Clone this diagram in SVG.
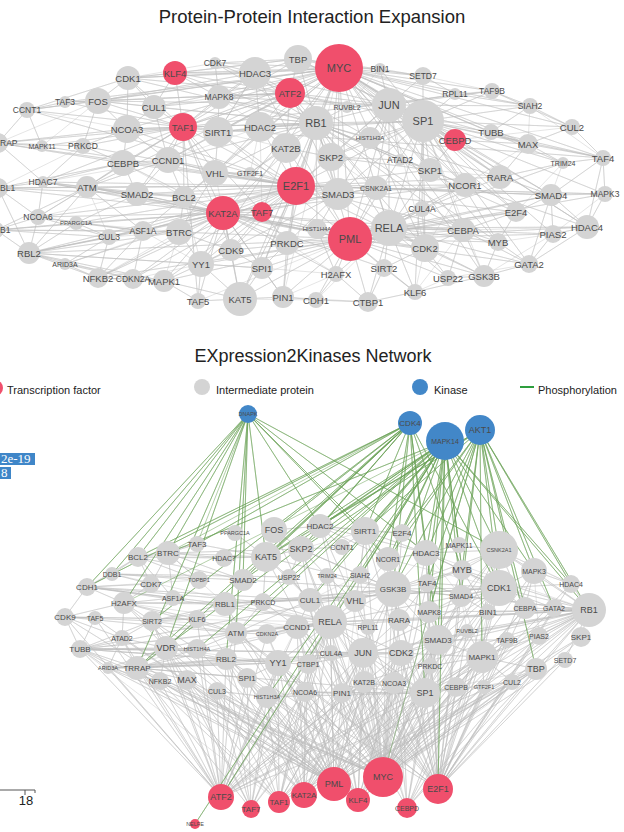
<svg xmlns="http://www.w3.org/2000/svg" width="624" height="832" viewBox="0 0 624 832">
<style>
.e{fill:none;stroke:#bdbdbd;stroke-width:0.5;stroke-linejoin:round;opacity:0.8}
.gr{fill:none;stroke:#6aa357;stroke-width:0.6;stroke-linejoin:round;opacity:0.85}
.n{fill:#d4d4d4}
.t{fill:#f04f6c}
.k{fill:#4287c8}
text{font-family:"Liberation Sans",Arial,sans-serif;fill:#4a4a4a;text-anchor:middle;dominant-baseline:central}
.tt{fill:#222;font-size:18px;dominant-baseline:alphabetic}
.lg{fill:#222;font-size:11px;text-anchor:start}
.f11{font-size:11px}.f10{font-size:9.5px}.f9{font-size:8.5px}.f7{font-size:7px}.f6{font-size:6px}
.b9{font-size:9px}.b8{font-size:8px}.b7{font-size:7px}.b6{font-size:5.5px}
.st{text-anchor:start}
</style>

<text class="tt" x="312" y="23" style="font-size:18.5px">Protein-Protein Interaction Expansion</text>

<g id="top-edges">
<path class="e" d="M339 68L175 73 339 68 215 63 339 68 255 73 339 68 298 59 339 68 380 69 339 68 423 76 339 68 455 94 339 68 492 91 339 68 530 106 339 68 572 127 339 68 389 105 339 68 423 121 339 68 455 140 339 68 491 132 339 68 528 144 339 68 563 163 339 68 603 158 339 68 331 157 339 68 430 170 339 68 500 177 339 68 128 78 339 68 98 101 339 68 154 107 339 68 219 97 339 68 183 127 339 68 218 132 339 68 260 127 339 68 127 129 339 68 168 160 339 68 215 173 339 68 296 186 339 68 338 194 339 68 389 228 339 68 350 239 339 68 465 185 339 68 551 195 339 68 587 227 339 68 463 230 339 68 498 242 339 68 425 248 339 68 484 276 339 68 516 212 339 68 223 213 339 68 201 264 339 68 184 197 339 68 87 187 339 68 27 110 339 68 65 102 339 68 240 299 339 68 262 268 339 68 283 297"/>
<path class="e" d="M296 186L316 123 296 186 286 148 296 186 260 127 296 186 218 132 296 186 183 127 296 186 168 160 296 186 215 173 296 186 137 194 296 186 87 187 296 186 43 182 296 186 -2 188 296 186 38 217 296 186 76 223 296 186 109 237 296 186 143 231 296 186 179 232 296 186 29 253 296 186 231 250 296 186 287 243 296 186 201 264 296 186 262 268 296 186 240 299 296 186 164 281 296 186 133 279 296 186 98 278 296 186 283 297 296 186 338 194 296 186 331 157 296 186 389 105 296 186 423 121 296 186 376 188 296 186 465 185 296 186 500 177 296 186 551 195 296 186 605 194 296 186 463 230 296 186 516 212 296 186 425 248 296 186 430 170 296 186 123 163 296 186 127 129 296 186 83 146 296 186 -2 143 296 186 27 110 296 186 42 146 296 186 65 264"/>
<path class="e" d="M350 239L389 228 350 239 425 248 350 239 384 268 350 239 336 274 350 239 368 302 350 239 415 292 350 239 448 278 350 239 484 276 350 239 529 264 350 239 498 242 350 239 553 234 350 239 587 227 350 239 516 212 350 239 463 230 350 239 422 209 350 239 551 195 350 239 423 121 350 239 389 105 350 239 316 123 350 239 286 148 350 239 262 212 350 239 223 213 350 239 262 268 350 239 283 297 350 239 316 300 350 239 240 299 350 239 201 264 350 239 179 232 350 239 137 194 350 239 87 187 350 239 164 281 350 239 255 73 350 239 218 132 350 239 43 182 350 239 231 250 350 239 465 185 350 239 500 177 350 239 376 188 350 239 563 163 350 239 605 194 350 239 29 253 350 239 98 278 350 239 198 301"/>
<path class="e" d="M423 121L389 105 423 121 423 76 423 121 455 94 423 121 492 91 423 121 530 106 423 121 491 132 423 121 528 144 423 121 455 140 423 121 603 158 423 121 572 127 423 121 500 177 423 121 465 185 423 121 430 170 423 121 370 138 423 121 338 194 423 121 551 195 423 121 516 212 423 121 463 230 423 121 498 242 423 121 587 227 423 121 316 123 423 121 331 157 423 121 260 127 423 121 298 59 423 121 529 264 423 121 553 234 423 121 563 163 423 121 415 292 423 121 218 132 423 121 422 209 423 121 389 228 423 121 425 248 423 121 380 69 423 121 605 194 423 121 484 276"/>
<path class="e" d="M316 123L255 73 316 123 298 59 316 123 290 93 316 123 260 127 316 123 286 148 316 123 218 132 316 123 219 97 316 123 128 78 316 123 168 160 316 123 154 107 316 123 183 127 316 123 389 105 316 123 331 157 316 123 370 138 316 123 338 194 316 123 376 188 316 123 400 160 316 123 430 170 316 123 215 173 316 123 250 173 316 123 223 213 316 123 287 243 316 123 317 229 316 123 425 248 316 123 389 228 316 123 465 185 316 123 500 177 316 123 498 242 316 123 463 230 316 123 516 212 316 123 175 73 316 123 215 63 316 123 347 107 316 123 127 129 316 123 98 101"/>
<path class="e" d="M183 127L175 73 183 127 128 78 183 127 154 107 183 127 98 101 183 127 219 97 183 127 127 129 183 127 123 163 183 127 168 160 183 127 218 132 183 127 255 73 183 127 298 59 183 127 290 93 183 127 83 146 183 127 65 102 183 127 42 146 183 127 -2 143 183 127 27 110 183 127 215 173 183 127 262 212 183 127 223 213 183 127 184 197 183 127 137 194 183 127 198 301 183 127 231 250 183 127 43 182 183 127 87 187 183 127 603 158 183 127 492 91 183 127 38 217"/>
<path class="e" d="M223 213L262 212 223 213 137 194 223 213 184 197 223 213 179 232 223 213 143 231 223 213 109 237 223 213 76 223 223 213 38 217 223 213 29 253 223 213 65 264 223 213 98 278 223 213 133 279 223 213 164 281 223 213 201 264 223 213 231 250 223 213 262 268 223 213 198 301 223 213 240 299 223 213 283 297 223 213 287 243 223 213 317 229 223 213 338 194 223 213 376 188 223 213 389 228 223 213 425 248 223 213 465 185 223 213 463 230 223 213 336 274 223 213 384 268 223 213 87 187 223 213 43 182 223 213 -2 188 223 213 -4 230 223 213 123 163 223 213 168 160"/>
<path class="e" d="M290 93L255 73 290 93 298 59 290 93 389 105 290 93 219 97 290 93 215 63 290 93 175 73 290 93 218 132 290 93 260 127 290 93 286 148 290 93 331 157 290 93 338 194 290 93 370 138 290 93 423 121 290 93 154 107 290 93 128 78 290 93 98 101 290 93 65 102 290 93 347 107 290 93 183 127"/>
<path class="e" d="M389 105L380 69 389 105 423 76 389 105 455 94 389 105 347 107 389 105 370 138 389 105 400 160 389 105 430 170 389 105 376 188 389 105 338 194 389 105 389 228 389 105 331 157 389 105 465 185 389 105 500 177 389 105 219 97 389 105 255 73 389 105 298 59 389 105 98 101 389 105 530 106 389 105 528 144 389 105 492 91 389 105 425 248"/>
<path class="e" d="M389 228L422 209 389 228 376 188 389 228 338 194 389 228 425 248 389 228 384 268 389 228 415 292 389 228 448 278 389 228 484 276 389 228 463 230 389 228 516 212 389 228 498 242 389 228 529 264 389 228 553 234 389 228 551 195 389 228 587 227 389 228 465 185 389 228 430 170 389 228 368 302 389 228 336 274 389 228 317 229 389 228 287 243 389 228 316 300"/>
<path class="e" d="M338 194L376 188 338 194 331 157 338 194 287 243 338 194 317 229 338 194 262 212 338 194 201 264 338 194 137 194 338 194 465 185M376 188L551 195 376 188 605 194M551 195L605 194 551 195 587 227 551 195 553 234 551 195 516 212 551 195 529 264 551 195 500 177 551 195 603 158 551 195 563 163M587 227L605 194 587 227 553 234 587 227 529 264 587 227 603 158 587 227 465 185 587 227 463 230M605 194L603 158 605 194 553 234M603 158L563 163 603 158 572 127 603 158 528 144 603 158 491 132 603 158 530 106M572 127L530 106 572 127 528 144 572 127 492 91 572 127 455 140M530 106L492 91 530 106 491 132 530 106 455 94 530 106 528 144M563 163L528 144 563 163 500 177 563 163 516 212M528 144L491 132 528 144 455 140 528 144 500 177 528 144 465 185M529 264L553 234 529 264 498 242 529 264 484 276 529 264 463 230 529 264 448 278M498 242L463 230 498 242 484 276 498 242 516 212 498 242 553 234M463 230L484 276 463 230 448 278 463 230 425 248 463 230 422 209 463 230 516 212 463 230 415 292M484 276L448 278 484 276 425 248 484 276 415 292 484 276 553 234M448 278L425 248 448 278 415 292M415 292L384 268 415 292 368 302 415 292 425 248M368 302L336 274 368 302 384 268 368 302 316 300 368 302 283 297M425 248L384 268 425 248 422 209 425 248 465 185"/>
<path class="e" d="M27 110L65 102 27 110 98 101 27 110 42 146 27 110 -2 143 27 110 128 78 27 110 127 129M-2 143L42 146 -2 143 83 146 -2 143 127 129 -2 143 123 163 -2 143 43 182 -2 143 98 101M-2 188L43 182 -2 188 87 187 -2 188 38 217 -2 188 29 253 -2 188 137 194 -2 188 123 163 -2 188 83 146M29 253L38 217 29 253 65 264 29 253 109 237 29 253 143 231 29 253 76 223 29 253 179 232 29 253 98 278 29 253 133 279 29 253 201 264 29 253 87 187 29 253 -4 230 29 253 164 281 29 253 262 268M-4 230L38 217 -4 230 76 223 -4 230 109 237 -4 230 143 231 -4 230 87 187 -4 230 179 232M38 217L76 223 38 217 87 187 38 217 109 237 38 217 143 231 38 217 43 182 38 217 137 194M43 182L87 187 43 182 137 194 43 182 83 146 43 182 123 163 43 182 168 160M87 187L137 194 87 187 123 163 87 187 168 160 87 187 184 197 87 187 143 231 87 187 109 237M76 223L109 237 76 223 143 231 76 223 137 194 76 223 179 232M65 264L98 278 65 264 109 237 65 264 133 279 65 264 164 281M98 278L133 279 98 278 164 281 98 278 109 237 98 278 143 231 98 278 179 232M133 279L164 281 133 279 143 231 133 279 201 264M164 281L201 264 164 281 198 301 164 281 240 299 164 281 179 232"/>
<path class="e" d="M98 101L65 102 98 101 128 78 98 101 154 107 98 101 127 129 98 101 83 146 98 101 42 146M128 78L175 73 128 78 154 107 128 78 127 129 128 78 215 63M154 107L127 129 154 107 175 73 154 107 168 160 154 107 219 97M127 129L123 163 127 129 168 160 127 129 83 146 127 129 218 132M123 163L168 160 123 163 137 194 123 163 83 146 123 163 184 197M168 160L218 132 168 160 215 173 168 160 137 194 168 160 184 197 168 160 260 127M219 97L255 73 219 97 215 63 219 97 175 73 219 97 218 132 219 97 260 127M218 132L260 127 218 132 255 73 218 132 215 173 218 132 286 148M260 127L255 73 260 127 286 148 260 127 215 173 260 127 250 173M215 173L250 173 215 173 184 197 215 173 179 232 215 173 231 250M184 197L137 194 184 197 179 232 184 197 143 231 184 197 201 264M179 232L143 231 179 232 201 264 179 232 231 250 179 232 109 237M201 264L231 250 201 264 262 268 201 264 198 301 201 264 240 299 201 264 143 231M240 299L198 301 240 299 262 268 240 299 283 297 240 299 231 250 240 299 316 300M283 297L262 268 283 297 316 300 283 297 287 243 283 297 336 274M262 268L231 250 262 268 287 243 262 268 336 274M336 274L316 300 336 274 317 229 336 274 287 243M262 212L287 243 262 212 231 250 262 212 286 148 262 212 260 127M298 59L255 73 298 59 215 63 298 59 380 69 298 59 423 76 298 59 175 73 298 59 128 78M255 73L215 63 255 73 175 73 255 73 128 78 255 73 98 101 255 73 218 132M380 69L423 76 380 69 347 107M423 76L455 94 423 76 492 91M455 94L492 91M286 148L331 157 286 148 250 173 286 148 260 127M331 157L370 138 331 157 400 160 331 157 430 170 331 157 376 188M430 170L400 160 430 170 465 185 430 170 455 140 430 170 500 177"/>
</g>

<g id="top-nodes">
<g id="a-KLF4"><circle class="t" cx="175" cy="73" r="12"/><text class="f10" x="175" y="73">KLF4</text></g>
<g id="a-CDK7"><circle class="n" cx="215" cy="63" r="6"/><text class="f9" x="215" y="63">CDK7</text></g>
<g id="a-HDAC3"><circle class="n" cx="255" cy="73" r="16"/><text class="f10" x="255" y="73">HDAC3</text></g>
<g id="a-TBP"><circle class="n" cx="298" cy="59" r="14"/><text class="f10" x="298" y="59">TBP</text></g>
<g id="a-ATF2"><circle class="t" cx="290" cy="93" r="15"/><text class="f10" x="290" y="93">ATF2</text></g>
<g id="a-MYC"><circle class="t" cx="339" cy="68" r="24"/><text class="f11" x="339" y="68">MYC</text></g>
<g id="a-BIN1"><circle class="n" cx="380" cy="69" r="6"/><text class="f9" x="380" y="69">BIN1</text></g>
<g id="a-SETD7"><circle class="n" cx="423" cy="76" r="9"/><text class="f9" x="423" y="76">SETD7</text></g>
<g id="a-RPL11"><circle class="n" cx="455" cy="94" r="6"/><text class="f9" x="455" y="94">RPL11</text></g>
<g id="a-TAF9B"><circle class="n" cx="492" cy="91" r="8"/><text class="f9" x="492" y="91">TAF9B</text></g>
<g id="a-SIAH2"><circle class="n" cx="530" cy="106" r="8"/><text class="f9" x="530" y="106">SIAH2</text></g>
<g id="a-CUL2"><circle class="n" cx="572" cy="127" r="8"/><text class="f10" x="572" y="127">CUL2</text></g>
<g id="a-RUVBL2"><circle class="n" cx="347" cy="107" r="6"/><text class="f7" x="347" y="107">RUVBL2</text></g>
<g id="a-JUN"><circle class="n" cx="389" cy="105" r="17"/><text class="f11" x="389" y="105">JUN</text></g>
<g id="a-SP1"><circle class="n" cx="423" cy="121" r="21"/><text class="f11" x="423" y="121">SP1</text></g>
<g id="a-HIST1H3A"><circle class="n" cx="370" cy="138" r="11"/><text class="f6" x="370" y="138">HIST1H3A</text></g>
<g id="a-CEBPD"><circle class="t" cx="455" cy="140" r="11"/><text class="f10" x="455" y="140">CEBPD</text></g>
<g id="a-TUBB"><circle class="n" cx="491" cy="132" r="8"/><text class="f10" x="491" y="132">TUBB</text></g>
<g id="a-MAX"><circle class="n" cx="528" cy="144" r="10"/><text class="f10" x="528" y="144">MAX</text></g>
<g id="a-TRIM24"><circle class="n" cx="563" cy="163" r="6"/><text class="f7" x="563" y="163">TRIM24</text></g>
<g id="a-TAF4"><circle class="n" cx="603" cy="158" r="8"/><text class="f10" x="603" y="158">TAF4</text></g>
<g id="a-SKP2"><circle class="n" cx="331" cy="157" r="14"/><text class="f10" x="331" y="157">SKP2</text></g>
<g id="a-ATAD2"><circle class="n" cx="400" cy="160" r="6"/><text class="f9" x="400" y="160">ATAD2</text></g>
<g id="a-SKP1"><circle class="n" cx="430" cy="170" r="12"/><text class="f10" x="430" y="170">SKP1</text></g>
<g id="a-RARA"><circle class="n" cx="500" cy="177" r="12"/><text class="f10" x="500" y="177">RARA</text></g>
<g id="a-CDK1"><circle class="n" cx="128" cy="78" r="12"/><text class="f10" x="128" y="78">CDK1</text></g>
<g id="a-CCNT1"><circle class="n" cx="27" cy="110" r="8"/><text class="f9" x="27" y="110">CCNT1</text></g>
<g id="a-TAF3"><circle class="n" cx="65" cy="102" r="6"/><text class="f9" x="65" y="102">TAF3</text></g>
<g id="a-FOS"><circle class="n" cx="98" cy="101" r="13"/><text class="f10" x="98" y="101">FOS</text></g>
<g id="a-CUL1"><circle class="n" cx="154" cy="107" r="12"/><text class="f10" x="154" y="107">CUL1</text></g>
<g id="a-MAPK8"><circle class="n" cx="219" cy="97" r="12"/><text class="f9" x="219" y="97">MAPK8</text></g>
<g id="a-TAF1"><circle class="t" cx="183" cy="127" r="14"/><text class="f10" x="183" y="127">TAF1</text></g>
<g id="a-SIRT1"><circle class="n" cx="218" cy="132" r="15"/><text class="f10" x="218" y="132">SIRT1</text></g>
<g id="a-HDAC2"><circle class="n" cx="260" cy="127" r="15"/><text class="f10" x="260" y="127">HDAC2</text></g>
<g id="a-RB1"><circle class="n" cx="316" cy="123" r="17"/><text class="f11" x="316" y="123">RB1</text></g>
<g id="a-NCOA3"><circle class="n" cx="127" cy="129" r="14"/><text class="f10" x="127" y="129">NCOA3</text></g>
<g id="a-TRRAP"><circle class="n" cx="-2" cy="143" r="10"/><text class="f9 st" x="0" y="143">RAP</text></g>
<g id="a-MAPK11"><circle class="n" cx="42" cy="146" r="6"/><text class="f7" x="42" y="146">MAPK11</text></g>
<g id="a-PRKCD"><circle class="n" cx="83" cy="146" r="8"/><text class="f9" x="83" y="146">PRKCD</text></g>
<g id="a-KAT2B"><circle class="n" cx="286" cy="148" r="15"/><text class="f10" x="286" y="148">KAT2B</text></g>
<g id="a-CEBPB"><circle class="n" cx="123" cy="163" r="13"/><text class="f10" x="123" y="163">CEBPB</text></g>
<g id="a-CCND1"><circle class="n" cx="168" cy="160" r="13"/><text class="f10" x="168" y="160">CCND1</text></g>
<g id="a-VHL"><circle class="n" cx="215" cy="173" r="13"/><text class="f10" x="215" y="173">VHL</text></g>
<g id="a-GTF2F1"><circle class="n" cx="250" cy="173" r="6"/><text class="f7" x="250" y="173">GTF2F1</text></g>
<g id="a-E2F1"><circle class="t" cx="296" cy="186" r="19"/><text class="f11" x="296" y="186">E2F1</text></g>
<g id="a-HDAC7"><circle class="n" cx="43" cy="182" r="6"/><text class="f9" x="43" y="182">HDAC7</text></g>
<g id="a-ATM"><circle class="n" cx="87" cy="187" r="11"/><text class="f10" x="87" y="187">ATM</text></g>
<g id="a-RBL1"><circle class="n" cx="-2" cy="188" r="10"/><text class="f9 st" x="0" y="188">BL1</text></g>
<g id="a-SMAD2"><circle class="n" cx="137" cy="194" r="12"/><text class="f10" x="137" y="194">SMAD2</text></g>
<g id="a-BCL2"><circle class="n" cx="184" cy="197" r="11"/><text class="f10" x="184" y="197">BCL2</text></g>
<g id="a-KAT2A"><circle class="t" cx="223" cy="213" r="17"/><text class="f10" x="223" y="213">KAT2A</text></g>
<g id="a-TAF7"><circle class="t" cx="262" cy="212" r="10"/><text class="f10" x="262" y="212">TAF7</text></g>
<g id="a-NCOA6"><circle class="n" cx="38" cy="217" r="8"/><text class="f9" x="38" y="217">NCOA6</text></g>
<g id="a-PPARGC1A"><circle class="n" cx="76" cy="223" r="7"/><text class="f6" x="76" y="223">PPARGC1A</text></g>
<g id="a-DDB1"><circle class="n" cx="-4" cy="230" r="8"/><text class="f9 st" x="0" y="230">B1</text></g>
<g id="a-CUL3"><circle class="n" cx="109" cy="237" r="8"/><text class="f9" x="109" y="237">CUL3</text></g>
<g id="a-ASF1A"><circle class="n" cx="143" cy="231" r="10"/><text class="f9" x="143" y="231">ASF1A</text></g>
<g id="a-BTRC"><circle class="n" cx="179" cy="232" r="13"/><text class="f10" x="179" y="232">BTRC</text></g>
<g id="a-RBL2"><circle class="n" cx="29" cy="253" r="11"/><text class="f10" x="29" y="253">RBL2</text></g>
<g id="a-ARID3A"><circle class="n" cx="65" cy="264" r="6"/><text class="f7" x="65" y="264">ARID3A</text></g>
<g id="a-CDK9"><circle class="n" cx="231" cy="250" r="11"/><text class="f10" x="231" y="250">CDK9</text></g>
<g id="a-PRKDC"><circle class="n" cx="287" cy="243" r="12"/><text class="f10" x="287" y="243">PRKDC</text></g>
<g id="a-HIST1H4A"><circle class="n" cx="317" cy="229" r="10"/><text class="f6" x="317" y="229">HIST1H4A</text></g>
<g id="a-NFKB2"><circle class="n" cx="98" cy="278" r="10"/><text class="f10" x="98" y="278">NFKB2</text></g>
<g id="a-CDKN2A"><circle class="n" cx="133" cy="279" r="10"/><text class="f9" x="133" y="279">CDKN2A</text></g>
<g id="a-MAPK1"><circle class="n" cx="164" cy="281" r="11"/><text class="f10" x="164" y="281">MAPK1</text></g>
<g id="a-YY1"><circle class="n" cx="201" cy="264" r="13"/><text class="f10" x="201" y="264">YY1</text></g>
<g id="a-SPI1"><circle class="n" cx="262" cy="268" r="11"/><text class="f10" x="262" y="268">SPI1</text></g>
<g id="a-TAF5"><circle class="n" cx="198" cy="301" r="8"/><text class="f10" x="198" y="301">TAF5</text></g>
<g id="a-KAT5"><circle class="n" cx="240" cy="299" r="17"/><text class="f10" x="240" y="299">KAT5</text></g>
<g id="a-PIN1"><circle class="n" cx="283" cy="297" r="11"/><text class="f10" x="283" y="297">PIN1</text></g>
<g id="a-CDH1"><circle class="n" cx="316" cy="300" r="8"/><text class="f10" x="316" y="300">CDH1</text></g>
<g id="a-NCOR1"><circle class="n" cx="465" cy="185" r="12"/><text class="f10" x="465" y="185">NCOR1</text></g>
<g id="a-SMAD4"><circle class="n" cx="551" cy="195" r="11"/><text class="f10" x="551" y="195">SMAD4</text></g>
<g id="a-MAPK3"><circle class="n" cx="605" cy="194" r="8"/><text class="f9" x="605" y="194">MAPK3</text></g>
<g id="a-SMAD3"><circle class="n" cx="338" cy="194" r="16"/><text class="f10" x="338" y="194">SMAD3</text></g>
<g id="a-CSNK2A1"><circle class="n" cx="376" cy="188" r="12"/><text class="f7" x="376" y="188">CSNK2A1</text></g>
<g id="a-CUL4A"><circle class="n" cx="422" cy="209" r="8"/><text class="f9" x="422" y="209">CUL4A</text></g>
<g id="a-E2F4"><circle class="n" cx="516" cy="212" r="10"/><text class="f10" x="516" y="212">E2F4</text></g>
<g id="a-HDAC4"><circle class="n" cx="587" cy="227" r="12"/><text class="f10" x="587" y="227">HDAC4</text></g>
<g id="a-PIAS2"><circle class="n" cx="553" cy="234" r="9"/><text class="f10" x="553" y="234">PIAS2</text></g>
<g id="a-CEBPA"><circle class="n" cx="463" cy="230" r="12"/><text class="f10" x="463" y="230">CEBPA</text></g>
<g id="a-MYB"><circle class="n" cx="498" cy="242" r="9"/><text class="f10" x="498" y="242">MYB</text></g>
<g id="a-RELA"><circle class="n" cx="389" cy="228" r="18"/><text class="f11" x="389" y="228">RELA</text></g>
<g id="a-PML"><circle class="t" cx="350" cy="239" r="22"/><text class="f11" x="350" y="239">PML</text></g>
<g id="a-CDK2"><circle class="n" cx="425" cy="248" r="14"/><text class="f10" x="425" y="248">CDK2</text></g>
<g id="a-GATA2"><circle class="n" cx="529" cy="264" r="9"/><text class="f10" x="529" y="264">GATA2</text></g>
<g id="a-H2AFX"><circle class="n" cx="336" cy="274" r="8"/><text class="f10" x="336" y="274">H2AFX</text></g>
<g id="a-SIRT2"><circle class="n" cx="384" cy="268" r="9"/><text class="f10" x="384" y="268">SIRT2</text></g>
<g id="a-USP22"><circle class="n" cx="448" cy="278" r="8"/><text class="f10" x="448" y="278">USP22</text></g>
<g id="a-GSK3B"><circle class="n" cx="484" cy="276" r="11"/><text class="f10" x="484" y="276">GSK3B</text></g>
<g id="a-KLF6"><circle class="n" cx="415" cy="292" r="8"/><text class="f10" x="415" y="292">KLF6</text></g>
<g id="a-CTBP1"><circle class="n" cx="368" cy="302" r="10"/><text class="f10" x="368" y="302">CTBP1</text></g>
</g>

<text class="tt" x="313" y="362">EXpression2Kinases Network</text>

<g id="legend">
<circle class="t" cx="-5" cy="388" r="8"/><text class="lg" x="7" y="390">Transcription factor</text>
<circle class="n" cx="202" cy="387" r="8"/><text class="lg" x="216" y="390">Intermediate protein</text>
<circle class="k" cx="420" cy="387" r="8"/><text class="lg" x="434" y="390">Kinase</text>
<line x1="520" y1="387" x2="534" y2="387" stroke="#2e9e3e" stroke-width="2"/><text class="lg" x="538" y="390">Phosphorylation</text>
</g>

<g id="side-labels">
<rect x="0" y="453" width="35" height="12" fill="#3f86c8"/>
<text x="1" y="463" style="font-family:'Liberation Serif','Times New Roman',serif;font-size:13px;fill:#fff;text-anchor:start;dominant-baseline:alphabetic">2e-19</text>
<rect x="0" y="467" width="11" height="12" fill="#3f86c8"/>
<text x="1" y="477" style="font-family:'Liberation Serif','Times New Roman',serif;font-size:13px;fill:#fff;text-anchor:start;dominant-baseline:alphabetic">8</text>
<path d="M0 790H35M25 790V795M35 790V793" fill="none" stroke="#555" stroke-width="1"/>
<text x="26" y="805" style="font-size:13px;fill:#222;dominant-baseline:alphabetic">18</text>
</g>

<g id="bottom-edges">
<path class="e" d="M383 777L425 693 383 777 456 687 383 777 484 687 383 777 512 682 383 777 536 669 383 777 565 660 383 777 482 657 383 777 507 640 383 777 539 636 383 777 581 637 383 777 589 610 383 777 554 608 383 777 525 608 383 777 488 612 383 777 499 588 383 777 499 550 383 777 571 584 383 777 534 571 383 777 461 596 383 777 427 583 383 777 462 570 383 777 393 589 383 777 438 640 383 777 401 653 383 777 363 653 383 777 364 682 383 777 394 683 383 777 430 666 383 777 467 631 383 777 399 620 383 777 429 612 383 777 368 627 383 777 330 622 383 777 342 693 383 777 267 697 383 777 305 692 383 777 308 664 383 777 278 663 383 777 247 678 383 777 217 691 383 777 187 680 383 777 160 681 383 777 137 668 383 777 108 668 383 777 80 649 383 777 426 553 383 777 388 559 383 777 365 531 383 777 320 526 383 777 274 530 383 777 301 549 383 777 266 557 383 777 310 600 383 777 297 627 383 777 236 633 383 777 226 659 383 777 402 533 383 777 360 575 383 777 327 576 383 777 342 547"/>
<path class="e" d="M438 789L589 610 438 789 581 637 438 789 565 660 438 789 536 669 438 789 512 682 438 789 539 636 438 789 554 608 438 789 525 608 438 789 499 588 438 789 571 584 438 789 534 571 438 789 482 657 438 789 438 640 438 789 401 653 438 789 425 693 438 789 456 687 438 789 484 687 438 789 364 682 438 789 394 683 438 789 363 653 438 789 330 622 438 789 507 640 438 789 467 631 438 789 461 596 438 789 462 570 438 789 499 550 438 789 426 553 438 789 388 559 438 789 365 531 438 789 320 526 438 789 430 666 438 789 297 627 438 789 331 653 438 789 236 633 438 789 226 659 438 789 278 663 438 789 427 583 438 789 488 612"/>
<path class="e" d="M334 784L137 668 334 784 108 668 334 784 80 649 334 784 160 681 334 784 187 680 334 784 217 691 334 784 267 697 334 784 305 692 334 784 342 693 334 784 247 678 334 784 278 663 334 784 308 664 334 784 226 659 334 784 197 649 334 784 166 648 334 784 122 638 334 784 152 621 334 784 197 619 334 784 236 633 334 784 267 634 334 784 297 627 334 784 330 622 334 784 363 653 334 784 331 653 334 784 364 682 334 784 425 693 334 784 401 653 334 784 438 640 334 784 482 657 334 784 589 610 334 784 536 669 334 784 581 637 334 784 512 682 334 784 124 603 334 784 95 618 334 784 65 617 334 784 225 604 334 784 310 600 334 784 393 589 334 784 499 588 334 784 499 550 334 784 365 531"/>
<path class="e" d="M221 797L80 649 221 797 108 668 221 797 137 668 221 797 160 681 221 797 187 680 221 797 217 691 221 797 267 697 221 797 247 678 221 797 226 659 221 797 166 648 221 797 122 638 221 797 95 618 221 797 65 617 221 797 152 621 221 797 197 619 221 797 197 649 221 797 236 633 221 797 267 634 221 797 297 627 221 797 278 663 221 797 308 664 221 797 305 692 221 797 342 693 221 797 330 622 221 797 363 653 221 797 401 653 221 797 425 693 221 797 438 640 221 797 482 657 221 797 536 669 221 797 364 682 221 797 394 683"/>
<path class="e" d="M251 809L137 668 251 809 187 680 251 809 217 691 251 809 267 697 251 809 247 678 251 809 278 663 251 809 305 692 251 809 226 659 251 809 342 693 251 809 166 648 251 809 330 622 251 809 363 653M279 802L160 681 279 802 187 680 279 802 217 691 279 802 267 697 279 802 305 692 279 802 342 693 279 802 278 663 279 802 308 664 279 802 226 659 279 802 330 622 279 802 363 653 279 802 425 693 279 802 394 683 279 802 401 653 279 802 536 669 279 802 137 668 279 802 80 649M304 795L217 691 304 795 267 697 304 795 305 692 304 795 342 693 304 795 308 664 304 795 278 663 304 795 247 678 304 795 187 680 304 795 364 682 304 795 394 683 304 795 425 693 304 795 363 653 304 795 330 622 304 795 438 640 304 795 482 657 304 795 166 648 304 795 226 659 304 795 401 653 304 795 297 627 304 795 536 669M358 800L305 692 358 800 342 693 358 800 364 682 358 800 394 683 358 800 425 693 358 800 456 687 358 800 363 653 358 800 331 653 358 800 308 664 358 800 278 663 358 800 267 697 358 800 401 653 358 800 438 640 358 800 482 657 358 800 512 682 358 800 536 669M407 808L425 693 407 808 456 687 407 808 484 687 407 808 394 683 407 808 364 682 407 808 342 693 407 808 482 657 407 808 512 682 407 808 536 669 407 808 438 640 407 808 401 653 407 808 363 653"/>
<path class="e" d="M589 610L554 608 589 610 525 608 589 610 499 588 589 610 571 584 589 610 534 571 589 610 581 637 589 610 565 660 589 610 539 636 589 610 536 669 589 610 507 640 589 610 482 657 589 610 488 612 589 610 461 596 589 610 438 640 589 610 429 612 589 610 401 653 589 610 393 589 589 610 363 653 589 610 330 622 589 610 297 627 589 610 425 693 589 610 456 687 589 610 484 687 589 610 512 682 589 610 467 631 589 610 399 620 589 610 364 682 589 610 499 550 589 610 462 570 589 610 426 553M499 588L525 608 499 588 554 608 499 588 534 571 499 588 571 584 499 588 461 596 499 588 462 570 499 588 499 550 499 588 488 612 499 588 467 631 499 588 482 657 499 588 438 640 499 588 429 612 499 588 427 583 499 588 393 589 499 588 401 653 499 588 363 653 499 588 330 622 499 588 310 600 499 588 263 602 499 588 225 604 499 588 426 553 499 588 388 559"/>
<path class="e" d="M393 589L427 583 393 589 429 612 393 589 399 620 393 589 368 627 393 589 355 601 393 589 360 575 393 589 388 559 393 589 426 553 393 589 461 596 393 589 438 640 393 589 401 653 393 589 363 653 393 589 330 622 393 589 310 600 393 589 327 576 393 589 462 570 393 589 499 550 393 589 263 602 393 589 225 604 393 589 243 580 393 589 266 557 393 589 301 549 393 589 365 531M425 693L394 683 425 693 364 682 425 693 401 653 425 693 438 640 425 693 363 653 425 693 430 666 425 693 456 687 425 693 482 657 425 693 330 622 425 693 342 693 425 693 305 692 425 693 267 697 425 693 399 620 425 693 429 612 425 693 467 631 425 693 507 640 425 693 512 682 425 693 536 669M482 657L507 640 482 657 467 631 482 657 438 640 482 657 456 687 482 657 484 687 482 657 512 682 482 657 536 669 482 657 539 636 482 657 430 666 482 657 401 653 482 657 488 612 482 657 525 608 482 657 461 596"/>
<path class="e" d="M330 622L297 627 330 622 310 600 330 622 355 601 330 622 368 627 330 622 331 653 330 622 363 653 330 622 308 664 330 622 278 663 330 622 267 634 330 622 236 633 330 622 263 602 330 622 225 604 330 622 289 577 330 622 327 576 330 622 360 575 330 622 301 549 330 622 399 620 330 622 401 653 330 622 342 693 330 622 305 692 330 622 364 682M363 653L331 653 363 653 401 653 363 653 368 627 363 653 399 620 363 653 364 682 363 653 394 683 363 653 342 693 363 653 308 664 363 653 278 663 363 653 438 640 363 653 430 666"/>
<path class="e" d="M80 649L122 638 80 649 108 668 80 649 137 668 80 649 95 618 80 649 65 617 80 649 152 621 80 649 166 648 80 649 197 649 80 649 226 659 80 649 278 663 80 649 330 622 80 649 393 589 80 649 401 653 80 649 363 653 80 649 236 633M108 668L137 668 108 668 160 681 108 668 122 638 108 668 166 648 108 668 226 659 108 668 278 663 108 668 363 653 108 668 330 622M65 617L95 618 65 617 124 603 65 617 122 638 65 617 87 587 65 617 152 621 65 617 197 619 65 617 236 633 65 617 330 622M87 587L112 574 87 587 124 603 87 587 151 584 87 587 138 557 87 587 173 598 87 587 225 604 87 587 263 602 87 587 310 600 87 587 330 622 87 587 199 580M112 574L138 557 112 574 151 584 112 574 199 580 112 574 243 580 112 574 289 577 112 574 330 622M124 603L151 584 124 603 173 598 124 603 152 621 124 603 225 604 124 603 197 619 124 603 166 648 124 603 122 638 124 603 236 633 124 603 263 602 124 603 297 627M137 668L160 681 137 668 187 680 137 668 166 648 137 668 122 638 137 668 226 659 137 668 247 678 137 668 278 663 137 668 197 649 137 668 330 622 137 668 401 653 137 668 425 693 137 668 363 653"/>
<path class="e" d="M138 557L168 553 138 557 151 584 138 557 197 544 138 557 224 558 138 557 173 598 138 557 199 580 138 557 243 580 138 557 266 557M168 553L197 544 168 553 224 558 168 553 151 584 168 553 199 580 168 553 173 598 168 553 243 580 168 553 266 557 168 553 301 549 168 553 225 604M152 621L197 619 152 621 166 648 152 621 173 598 152 621 225 604 152 621 236 633 152 621 122 638 152 621 263 602 152 621 197 649 152 621 297 627M166 648L197 649 166 648 226 659 166 648 197 619 166 648 236 633 166 648 187 680 166 648 160 681 166 648 122 638 166 648 278 663M236 633L267 634 236 633 297 627 236 633 263 602 236 633 225 604 236 633 226 659 236 633 278 663 236 633 197 649 236 633 197 619 236 633 310 600 236 633 330 622M266 557L243 580 266 557 224 558 266 557 274 530 266 557 301 549 266 557 289 577 266 557 263 602 266 557 235 533 266 557 197 544 266 557 310 600 266 557 320 526M301 549L274 530 301 549 320 526 301 549 342 547 301 549 327 576 301 549 289 577 301 549 310 600 301 549 360 575 301 549 365 531M320 526L365 531 320 526 342 547 320 526 274 530 320 526 388 559 320 526 426 553 320 526 402 533M365 531L402 533 365 531 388 559 365 531 342 547 365 531 360 575 365 531 426 553 365 531 327 576"/>
<path class="e" d="M426 553L459 545 426 553 462 570 426 553 427 583 426 553 388 559 426 553 402 533 426 553 499 550 426 553 461 596M499 550L459 545 499 550 462 570 499 550 534 571 499 550 571 584 499 550 525 608 499 550 461 596 499 550 427 583M462 570L427 583 462 570 461 596 462 570 488 612 462 570 459 545 462 570 525 608M534 571L571 584 534 571 554 608 534 571 525 608 534 571 539 636M461 596L429 612 461 596 427 583 461 596 488 612 461 596 438 640 461 596 467 631M427 583L429 612 427 583 399 620 427 583 438 640M438 640L429 612 438 640 399 620 438 640 401 653 438 640 430 666 438 640 467 631 438 640 507 640 438 640 456 687M310 600L289 577 310 600 327 576 310 600 263 602 310 600 297 627 310 600 355 601 310 600 360 575M355 601L360 575 355 601 327 576 355 601 368 627 355 601 388 559 355 601 399 620M297 627L267 634 297 627 263 602 297 627 331 653 297 627 308 664 297 627 278 663M278 663L308 664 278 663 247 678 278 663 267 697 278 663 305 692 278 663 226 659 278 663 267 634M267 697L247 678 267 697 305 692 267 697 217 691 267 697 342 693M342 693L364 682 342 693 305 692 342 693 331 653 342 693 394 683"/>
</g>

<g id="phospho-edges">
<path class="gr" d="M248 414L138 557 248 414 87 587 248 414 112 574 248 414 168 553 248 414 124 603 248 414 137 668 248 414 166 648 248 414 266 557 248 414 243 580 248 414 320 526 248 414 365 531 248 414 499 550 248 414 426 553 248 414 388 559 248 414 226 659 248 414 236 633 248 414 197 544"/>
<path class="gr" d="M410 423L138 557 410 423 87 587 410 423 197 544 410 423 266 557 410 423 274 530 410 423 301 549 410 423 320 526 410 423 365 531 410 423 388 559 410 423 393 589 410 423 426 553 410 423 499 588 410 423 462 570 410 423 137 668 410 423 152 621 410 423 166 648 410 423 243 580 410 423 438 640 410 423 425 693 410 423 168 553"/>
<path class="gr" d="M445 441L168 553 445 441 266 557 445 441 243 580 445 441 320 526 445 441 365 531 445 441 402 533 445 441 388 559 445 441 426 553 445 441 459 545 445 441 427 583 445 441 461 596 445 441 499 550 445 441 534 571 445 441 571 584 445 441 589 610 445 441 499 588 445 441 393 589 445 441 462 570 445 441 360 575 445 441 327 576 445 441 263 602 445 441 310 600 445 441 197 649 445 441 236 633 445 441 137 668 445 441 438 789 445 441 221 797 445 441 195 824 445 441 429 612 445 441 438 640 445 441 267 697 445 441 124 603"/>
<path class="gr" d="M480 430L393 589 480 430 534 571 480 430 589 610 480 430 571 584 480 430 499 550 480 430 301 549 480 430 499 588 480 430 461 596 480 430 427 583 480 430 462 570 480 430 365 531 480 430 429 612 480 430 402 533 480 430 388 559 480 430 426 553 480 430 525 608 480 430 554 608 480 430 482 657 480 430 536 669 480 430 266 557 480 430 320 526 480 430 383 777"/>
</g>

<g id="bottom-nodes">
<g id="b-DNAPK"><circle class="k" cx="248" cy="414" r="9"/><text class="b6" x="248" y="414">DNAPK</text></g>
<g id="b-CDK4"><circle class="k" cx="410" cy="423" r="12"/><text class="b8" x="410" y="423">CDK4</text></g>
<g id="b-MAPK14"><circle class="k" cx="445" cy="441" r="19"/><text class="b7" x="445" y="441">MAPK14</text></g>
<g id="b-AKT1"><circle class="k" cx="480" cy="430" r="15"/><text class="b9" x="480" y="430">AKT1</text></g>
<g id="b-PPARGC1A"><circle class="n" cx="235" cy="533" r="8"/><text class="b6" x="235" y="533">PPARGC1A</text></g>
<g id="b-FOS"><circle class="n" cx="274" cy="530" r="13"/><text class="b9" x="274" y="530">FOS</text></g>
<g id="b-HDAC2"><circle class="n" cx="320" cy="526" r="12"/><text class="b8" x="320" y="526">HDAC2</text></g>
<g id="b-SIRT1"><circle class="n" cx="365" cy="531" r="14"/><text class="b8" x="365" y="531">SIRT1</text></g>
<g id="b-E2F4"><circle class="n" cx="402" cy="533" r="9"/><text class="b8" x="402" y="533">E2F4</text></g>
<g id="b-BCL2"><circle class="n" cx="138" cy="557" r="10"/><text class="b8" x="138" y="557">BCL2</text></g>
<g id="b-BTRC"><circle class="n" cx="168" cy="553" r="12"/><text class="b8" x="168" y="553">BTRC</text></g>
<g id="b-TAF3"><circle class="n" cx="197" cy="544" r="8"/><text class="b8" x="197" y="544">TAF3</text></g>
<g id="b-HDAC7"><circle class="n" cx="224" cy="558" r="9"/><text class="b7" x="224" y="558">HDAC7</text></g>
<g id="b-KAT5"><circle class="n" cx="266" cy="557" r="15"/><text class="b9" x="266" y="557">KAT5</text></g>
<g id="b-SKP2"><circle class="n" cx="301" cy="549" r="13"/><text class="b9" x="301" y="549">SKP2</text></g>
<g id="b-CCNT1"><circle class="n" cx="342" cy="547" r="8"/><text class="b7" x="342" y="547">CCNT1</text></g>
<g id="b-HDAC3"><circle class="n" cx="426" cy="553" r="13"/><text class="b8" x="426" y="553">HDAC3</text></g>
<g id="b-MAPK11"><circle class="n" cx="459" cy="545" r="8"/><text class="b7" x="459" y="545">MAPK11</text></g>
<g id="b-CSNK2A1"><circle class="n" cx="499" cy="550" r="19"/><text class="b6" x="499" y="550">CSNK2A1</text></g>
<g id="b-DDB1"><circle class="n" cx="112" cy="574" r="7"/><text class="b7" x="112" y="574">DDB1</text></g>
<g id="b-CDH1"><circle class="n" cx="87" cy="587" r="9"/><text class="b8" x="87" y="587">CDH1</text></g>
<g id="b-CDK7"><circle class="n" cx="151" cy="584" r="9"/><text class="b8" x="151" y="584">CDK7</text></g>
<g id="b-TOPBP1"><circle class="n" cx="199" cy="580" r="9"/><text class="b6" x="199" y="580">TOPBP1</text></g>
<g id="b-SMAD2"><circle class="n" cx="243" cy="580" r="11"/><text class="b8" x="243" y="580">SMAD2</text></g>
<g id="b-USP22"><circle class="n" cx="289" cy="577" r="8"/><text class="b7" x="289" y="577">USP22</text></g>
<g id="b-TRIM24"><circle class="n" cx="327" cy="576" r="8"/><text class="b6" x="327" y="576">TRIM24</text></g>
<g id="b-SIAH2"><circle class="n" cx="360" cy="575" r="9"/><text class="b7" x="360" y="575">SIAH2</text></g>
<g id="b-NCOR1"><circle class="n" cx="388" cy="559" r="12"/><text class="b7" x="388" y="559">NCOR1</text></g>
<g id="b-MYB"><circle class="n" cx="462" cy="570" r="10"/><text class="b9" x="462" y="570">MYB</text></g>
<g id="b-MAPK3"><circle class="n" cx="534" cy="571" r="13"/><text class="b7" x="534" y="571">MAPK3</text></g>
<g id="b-HDAC4"><circle class="n" cx="571" cy="584" r="9"/><text class="b7" x="571" y="584">HDAC4</text></g>
<g id="b-H2AFX"><circle class="n" cx="124" cy="603" r="11"/><text class="b8" x="124" y="603">H2AFX</text></g>
<g id="b-ASF1A"><circle class="n" cx="173" cy="598" r="8"/><text class="b7" x="173" y="598">ASF1A</text></g>
<g id="b-RBL1"><circle class="n" cx="225" cy="604" r="12"/><text class="b8" x="225" y="604">RBL1</text></g>
<g id="b-PRKCD"><circle class="n" cx="263" cy="602" r="9"/><text class="b7" x="263" y="602">PRKCD</text></g>
<g id="b-CUL1"><circle class="n" cx="310" cy="600" r="12"/><text class="b8" x="310" y="600">CUL1</text></g>
<g id="b-VHL"><circle class="n" cx="355" cy="601" r="11"/><text class="b9" x="355" y="601">VHL</text></g>
<g id="b-GSK3B"><circle class="n" cx="393" cy="589" r="18"/><text class="b8" x="393" y="589">GSK3B</text></g>
<g id="b-TAF4"><circle class="n" cx="427" cy="583" r="9"/><text class="b8" x="427" y="583">TAF4</text></g>
<g id="b-SMAD4"><circle class="n" cx="461" cy="596" r="11"/><text class="b7" x="461" y="596">SMAD4</text></g>
<g id="b-CDK1"><circle class="n" cx="499" cy="588" r="18"/><text class="b9" x="499" y="588">CDK1</text></g>
<g id="b-CEBPA"><circle class="n" cx="525" cy="608" r="11"/><text class="b7" x="525" y="608">CEBPA</text></g>
<g id="b-GATA2"><circle class="n" cx="554" cy="608" r="9"/><text class="b7" x="554" y="608">GATA2</text></g>
<g id="b-RB1"><circle class="n" cx="589" cy="610" r="17"/><text class="b9" x="589" y="610">RB1</text></g>
<g id="b-MAPK8"><circle class="n" cx="429" cy="612" r="11"/><text class="b7" x="429" y="612">MAPK8</text></g>
<g id="b-BIN1"><circle class="n" cx="488" cy="612" r="8"/><text class="b8" x="488" y="612">BIN1</text></g>
<g id="b-CDK9"><circle class="n" cx="65" cy="617" r="9"/><text class="b8" x="65" y="617">CDK9</text></g>
<g id="b-TAF5"><circle class="n" cx="95" cy="618" r="7"/><text class="b7" x="95" y="618">TAF5</text></g>
<g id="b-SIRT2"><circle class="n" cx="152" cy="621" r="10"/><text class="b7" x="152" y="621">SIRT2</text></g>
<g id="b-KLF6"><circle class="n" cx="197" cy="619" r="9"/><text class="b7" x="197" y="619">KLF6</text></g>
<g id="b-RELA"><circle class="n" cx="330" cy="622" r="17"/><text class="b9" x="330" y="622">RELA</text></g>
<g id="b-RARA"><circle class="n" cx="399" cy="620" r="11"/><text class="b8" x="399" y="620">RARA</text></g>
<g id="b-RPL11"><circle class="n" cx="368" cy="627" r="8"/><text class="b7" x="368" y="627">RPL11</text></g>
<g id="b-RUVBL2"><circle class="n" cx="467" cy="631" r="7"/><text class="b6" x="467" y="631">RUVBL2</text></g>
<g id="b-ATM"><circle class="n" cx="236" cy="633" r="11"/><text class="b8" x="236" y="633">ATM</text></g>
<g id="b-CDKN2A"><circle class="n" cx="267" cy="634" r="10"/><text class="b6" x="267" y="634">CDKN2A</text></g>
<g id="b-CCND1"><circle class="n" cx="297" cy="627" r="12"/><text class="b8" x="297" y="627">CCND1</text></g>
<g id="b-PIAS2"><circle class="n" cx="539" cy="636" r="9"/><text class="b7" x="539" y="636">PIAS2</text></g>
<g id="b-SKP1"><circle class="n" cx="581" cy="637" r="10"/><text class="b8" x="581" y="637">SKP1</text></g>
<g id="b-ATAD2"><circle class="n" cx="122" cy="638" r="8"/><text class="b7" x="122" y="638">ATAD2</text></g>
<g id="b-SMAD3"><circle class="n" cx="438" cy="640" r="15"/><text class="b8" x="438" y="640">SMAD3</text></g>
<g id="b-TAF9B"><circle class="n" cx="507" cy="640" r="8"/><text class="b7" x="507" y="640">TAF9B</text></g>
<g id="b-TUBB"><circle class="n" cx="80" cy="649" r="9"/><text class="b8" x="80" y="649">TUBB</text></g>
<g id="b-VDR"><circle class="n" cx="166" cy="648" r="12"/><text class="b9" x="166" y="648">VDR</text></g>
<g id="b-HIST1H4A"><circle class="n" cx="197" cy="649" r="10"/><text class="b6" x="197" y="649">HIST1H4A</text></g>
<g id="b-CUL4A"><circle class="n" cx="331" cy="653" r="8"/><text class="b7" x="331" y="653">CUL4A</text></g>
<g id="b-JUN"><circle class="n" cx="363" cy="653" r="15"/><text class="b9" x="363" y="653">JUN</text></g>
<g id="b-CDK2"><circle class="n" cx="401" cy="653" r="13"/><text class="b9" x="401" y="653">CDK2</text></g>
<g id="b-MAPK1"><circle class="n" cx="482" cy="657" r="16"/><text class="b8" x="482" y="657">MAPK1</text></g>
<g id="b-SETD7"><circle class="n" cx="565" cy="660" r="8"/><text class="b7" x="565" y="660">SETD7</text></g>
<g id="b-RBL2"><circle class="n" cx="226" cy="659" r="11"/><text class="b8" x="226" y="659">RBL2</text></g>
<g id="b-YY1"><circle class="n" cx="278" cy="663" r="13"/><text class="b9" x="278" y="663">YY1</text></g>
<g id="b-CTBP1"><circle class="n" cx="308" cy="664" r="10"/><text class="b7" x="308" y="664">CTBP1</text></g>
<g id="b-TBP"><circle class="n" cx="536" cy="669" r="11"/><text class="b9" x="536" y="669">TBP</text></g>
<g id="b-PRKDC"><circle class="n" cx="430" cy="666" r="8"/><text class="b7" x="430" y="666">PRKDC</text></g>
<g id="b-ARID3A"><circle class="n" cx="108" cy="668" r="6"/><text class="b6" x="108" y="668">ARID3A</text></g>
<g id="b-TRRAP"><circle class="n" cx="137" cy="668" r="12"/><text class="b8" x="137" y="668">TRRAP</text></g>
<g id="b-NFKB2"><circle class="n" cx="160" cy="681" r="9"/><text class="b7" x="160" y="681">NFKB2</text></g>
<g id="b-MAX"><circle class="n" cx="187" cy="680" r="10"/><text class="b9" x="187" y="680">MAX</text></g>
<g id="b-SPI1"><circle class="n" cx="247" cy="678" r="10"/><text class="b8" x="247" y="678">SPI1</text></g>
<g id="b-KAT2B"><circle class="n" cx="364" cy="682" r="11"/><text class="b7" x="364" y="682">KAT2B</text></g>
<g id="b-NCOA3"><circle class="n" cx="394" cy="683" r="11"/><text class="b7" x="394" y="683">NCOA3</text></g>
<g id="b-CEBPB"><circle class="n" cx="456" cy="687" r="10"/><text class="b7" x="456" y="687">CEBPB</text></g>
<g id="b-GTF2F1"><circle class="n" cx="484" cy="687" r="7"/><text class="b6" x="484" y="687">GTF2F1</text></g>
<g id="b-CUL2"><circle class="n" cx="512" cy="682" r="8"/><text class="b7" x="512" y="682">CUL2</text></g>
<g id="b-CUL3"><circle class="n" cx="217" cy="691" r="9"/><text class="b7" x="217" y="691">CUL3</text></g>
<g id="b-NCOA6"><circle class="n" cx="305" cy="692" r="10"/><text class="b7" x="305" y="692">NCOA6</text></g>
<g id="b-HIST1H3A"><circle class="n" cx="267" cy="697" r="11"/><text class="b6" x="267" y="697">HIST1H3A</text></g>
<g id="b-PIN1"><circle class="n" cx="342" cy="693" r="10"/><text class="b8" x="342" y="693">PIN1</text></g>
<g id="b-SP1"><circle class="n" cx="425" cy="693" r="15"/><text class="b9" x="425" y="693">SP1</text></g>
<g id="b-ATF2"><circle class="t" cx="221" cy="797" r="13"/><text class="b9" x="221" y="797">ATF2</text></g>
<g id="b-TAF7"><circle class="t" cx="251" cy="809" r="9"/><text class="b8" x="251" y="809">TAF7</text></g>
<g id="b-TAF1"><circle class="t" cx="279" cy="802" r="11"/><text class="b8" x="279" y="802">TAF1</text></g>
<g id="b-KAT2A"><circle class="t" cx="304" cy="795" r="13"/><text class="b8" x="304" y="795">KAT2A</text></g>
<g id="b-PML"><circle class="t" cx="334" cy="784" r="17"/><text class="b9" x="334" y="784">PML</text></g>
<g id="b-KLF4"><circle class="t" cx="358" cy="800" r="12"/><text class="b8" x="358" y="800">KLF4</text></g>
<g id="b-MYC"><circle class="t" cx="383" cy="777" r="20"/><text class="b9" x="383" y="777">MYC</text></g>
<g id="b-CEBPD"><circle class="t" cx="407" cy="808" r="10"/><text class="b7" x="407" y="808">CEBPD</text></g>
<g id="b-E2F1"><circle class="t" cx="438" cy="789" r="15"/><text class="b9" x="438" y="789">E2F1</text></g>
<g id="b-NELFE"><circle class="t" cx="195" cy="824" r="5"/><text class="b6" x="195" y="824">NELFE</text></g>
</g>
</svg>
